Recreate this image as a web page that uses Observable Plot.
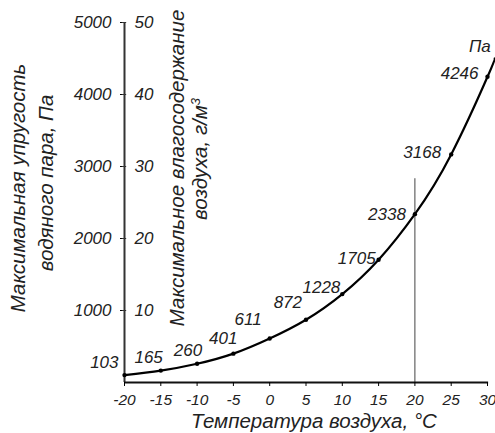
<!DOCTYPE html>
<html><head><meta charset="utf-8">
<script src="https://cdn.jsdelivr.net/npm/d3@7"></script>
<script src="https://cdn.jsdelivr.net/npm/@observablehq/plot@0.6"></script>
<style>
body{margin:0;background:#fff}
#chart svg{font-style:italic}
</style>
</head><body><div id="chart"></div>
<script>
// Data
const temps = [-20, -15, -10, -5, 0, 5, 10, 15, 20, 25, 30];
const pressure = [103, 165, 260, 401, 611, 872, 1228, 1705, 2338, 3168, 4246];
const tailTemp = 31, tailPressure = 4500;      // curve continues a little past 30 °C
const paTicks = [1000, 2000, 3000, 4000, 5000];
const gTicks = [10, 20, 30, 40, 50];
const xTicks = [-20, -15, -10, -5, 0, 5, 10, 15, 20, 25, 30];
const refTemp = 20, refTop = 2830;             // vertical guide at 20 °C
const unitLabel = "Па";

// Layout nudges for the value labels (pixels, [dx, dy])
const nudge = [[-6,-13],[2,-13],[5,-13],[4,-15],[-8,-19],[-4,-17],[-2,-7],[-3,-1],[-9,0],[-10,-2],[-9,-3]];

const pts = temps.map((t, i) => ({t, p: pressure[i]}));
const linePts = [...pts, {t: tailTemp, p: tailPressure}];

const font = "Liberation Sans, Arial, sans-serif";
const fs = 17;
const titleFs = 20.5;

const labelMarks = pts.map((d, i) => Plot.text([d], {
  x: "t", y: "p", text: d => String(d.p), textAnchor: "end",
  dx: nudge[i][0], dy: nudge[i][1], fontSize: fs, fill: "#222"
}));

const chart = Plot.plot({
  width: 495, height: 433,
  marginLeft: 124, marginRight: 8, marginTop: 22, marginBottom: 51,
  style: {fontFamily: font, fontSize: fs + "px", background: "#fff", overflow: "visible"},
  x: {domain: [-20, 30]},
  y: {domain: [0, 5000]},
  marks: [
    Plot.ruleX([refTemp], {y1: 0, y2: refTop, stroke: "#444", strokeWidth: 1}),
    Plot.ruleX([-20], {y1: 0, y2: 5000, stroke: "#333", strokeWidth: 2}),
    Plot.ruleY([0], {x1: -20, x2: 30.15, stroke: "#111", strokeWidth: 2}),
    Plot.axisX({ticks: xTicks, tickSize: 4, tickPadding: 7, fontSize: 15.5, label: null, tickFormat: d => String(d), fill: "#222"}),
    Plot.axisY({ticks: paTicks, tickSize: 4, tickPadding: 9, fontSize: fs, label: null, tickFormat: d => String(d), fill: "#222"}),
    Plot.ruleY(paTicks, {x1: -20.3, x2: -19.7, stroke: "#333"}),
    Plot.text(gTicks, {x: -20, y: d => d * 100, text: d => String(d), dx: 10, textAnchor: "start", fontSize: fs, fill: "#222"}),
    Plot.line(linePts, {x: "t", y: "p", curve: "natural", stroke: "#000", strokeWidth: 2.2}),
    Plot.dot(pts, {x: "t", y: "p", r: 2.2, fill: "#000"}),
    ...labelMarks,
    Plot.text([{t: tailTemp, p: tailPressure}], {x: "t", y: "p", text: () => unitLabel, textAnchor: "end", dx: -4, dy: -12, fontSize: fs, fill: "#222"})
  ]
});

const svg = d3.select(chart);
function vtext(x, y) {
  return svg.append("text")
    .attr("transform", `translate(${x},${y}) rotate(-90)`)
    .attr("text-anchor", "middle")
    .attr("font-family", font).attr("font-size", titleFs).attr("font-style", "italic")
    .attr("fill", "#222");
}
vtext(25, 188).text("Максимальная упругость");
vtext(53, 183).text("водяного пара, Па");
vtext(184, 168).text("Максимальное влагосодержание");
const t2 = vtext(207, 159);
t2.append("tspan").text("воздуха, г/м");
t2.append("tspan").attr("dy", -7).attr("font-size", 13).text("3");
svg.append("text").attr("x", 314).attr("y", 428).attr("text-anchor", "middle")
  .attr("font-family", font).attr("font-size", titleFs).attr("font-style", "italic").attr("fill", "#222")
  .text("Температура воздуха, °C");

document.getElementById("chart").append(chart);
</script>
</body></html>
